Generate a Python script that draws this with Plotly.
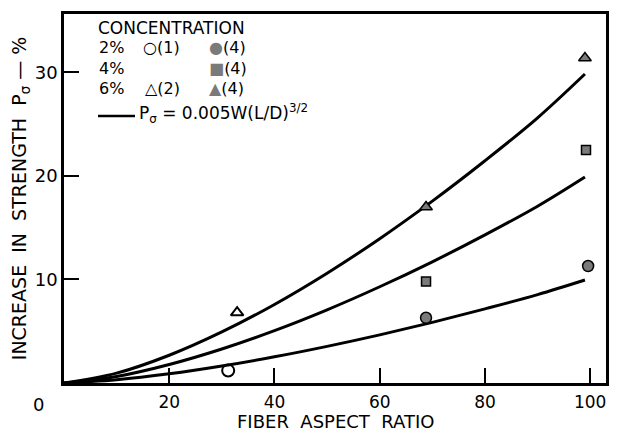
import plotly.graph_objects as go

# Theoretical curves P = 0.005 W (L/D)^1.5
curve_ld = [0, 10, 20, 30, 40, 50, 60, 70, 80, 90, 99]
curve_w2 = [0, 0.32, 0.89, 1.64, 2.53, 3.54, 4.65, 5.86, 7.16, 8.54, 9.95]
curve_w4 = [0, 0.63, 1.79, 3.29, 5.06, 7.07, 9.30, 11.71, 14.31, 17.08, 19.90]
curve_w6 = [0, 0.95, 2.68, 4.93, 7.59, 10.61, 13.94, 17.57, 21.47, 25.62, 29.85]

# Measured points
c2_ref1_x = [31.2]
c2_ref1_y = [1.2]
c2_ref4_x = [68.8, 99.6]
c2_ref4_y = [6.3, 11.3]
c4_ref4_x = [68.8, 99.2]
c4_ref4_y = [9.8, 22.5]
c6_ref2_x = [32.9]
c6_ref2_y = [6.8]
c6_ref4_x = [68.8, 99.0]
c6_ref4_y = [17.0, 31.4]

x_ticks = [20, 40, 60, 80, 100]
y_ticks = [10, 20, 30]

FONT = "DejaVu Sans"
NB = "\u00a0"
fig = go.Figure()

for ys in (curve_w2, curve_w4, curve_w6):
    fig.add_trace(go.Scatter(x=curve_ld, y=ys, mode="lines",
                             line=dict(color="black", width=3, shape="spline"),
                             showlegend=False, hoverinfo="skip"))

grey = "#7a7a7a"
fig.add_trace(go.Scatter(x=c2_ref1_x, y=c2_ref1_y, mode="markers",
                         marker=dict(symbol="circle-open", size=12, color="black",
                                     line=dict(width=2, color="black")), showlegend=False))
fig.add_trace(go.Scatter(x=c2_ref4_x, y=c2_ref4_y, mode="markers",
                         marker=dict(symbol="circle", size=11, color=grey,
                                     line=dict(width=1.5, color="black")), showlegend=False))
fig.add_trace(go.Scatter(x=c4_ref4_x, y=c4_ref4_y, mode="markers",
                         marker=dict(symbol="square", size=9, color=grey,
                                     line=dict(width=1.5, color="black")), showlegend=False))
fig.add_trace(go.Scatter(x=c6_ref2_x, y=c6_ref2_y, mode="markers",
                         marker=dict(symbol="triangle-up-open", size=11, color="black",
                                     line=dict(width=2, color="black")), showlegend=False))
fig.add_trace(go.Scatter(x=c6_ref4_x, y=c6_ref4_y, mode="markers",
                         marker=dict(symbol="triangle-up", size=11, color=grey,
                                     line=dict(width=1.5, color="black")), showlegend=False))

fig.update_layout(
    width=623, height=433,
    margin=dict(l=64, r=17, t=14, b=50, autoexpand=False),
    paper_bgcolor="white", plot_bgcolor="white",
    font=dict(family=FONT, color="black", size=16),
    xaxis=dict(range=[0, 103], tickvals=x_ticks, ticktext=[str(v) for v in x_ticks],
               ticks="inside", ticklen=15, tickwidth=1.5, tickcolor="black",
               ticklabelstandoff=2, automargin=False,
               showline=True, linecolor="black", linewidth=2.5, mirror=True,
               showgrid=False, zeroline=False, tickfont=dict(size=17, family=FONT)),
    yaxis=dict(range=[0, 35.65], tickvals=y_ticks, ticktext=[str(v) for v in y_ticks],
               ticks="inside", ticklen=15, tickwidth=1.5, tickcolor="black",
               automargin=False,
               showline=True, linecolor="black", linewidth=2.5, mirror=True,
               showgrid=False, zeroline=False, tickfont=dict(size=18, family=FONT),
               title=dict(text=f"INCREASE{NB}{NB}IN{NB}{NB}STRENGTH{NB}{NB}P<sub>σ</sub>{NB}—{NB}%",
                          font=dict(size=19, family=FONT), standoff=4)),
)

def ann(text, x, y, size=16, xanchor="left", yanchor="middle"):
    fig.add_annotation(text=text, x=x, y=y, xref="paper", yref="paper",
                       xanchor=xanchor, yanchor=yanchor, showarrow=False,
                       font=dict(size=size, family=FONT, color="black"))

def px(v):
    return (v - 64) / 542.0

def py(v):
    return (383 - v) / 369.0

ann(f"FIBER{NB}{NB}ASPECT{NB}{NB}RATIO", 0.5, py(434), size=18,
    xanchor="center", yanchor="bottom")
ann("0", px(38), py(404), size=18, xanchor="center")
ann("CONCENTRATION", px(96), py(28), size=17)
ann("2%", px(97), py(48))
ann("○(1)", px(141), py(48))
ann(f"<span style='color:{grey}'>●</span>(4)", px(207), py(48))
ann("4%", px(97), py(68))
ann(f"<span style='color:{grey}'>■</span>(4)", px(207), py(68))
ann("6%", px(97), py(88))
ann("△(2)", px(143), py(88))
ann(f"<span style='color:{grey}'>▲</span>(4)", px(207), py(88))
ann("P<sub>σ</sub> = 0.005W(L/D)<sup>3/2</sup>", px(137), py(113), size=17)
fig.add_shape(type="line", xref="paper", yref="paper",
              x0=px(98), x1=px(135), y0=py(116), y1=py(116),
              line=dict(color="black", width=2.5))

fig.write_html("out.html")
